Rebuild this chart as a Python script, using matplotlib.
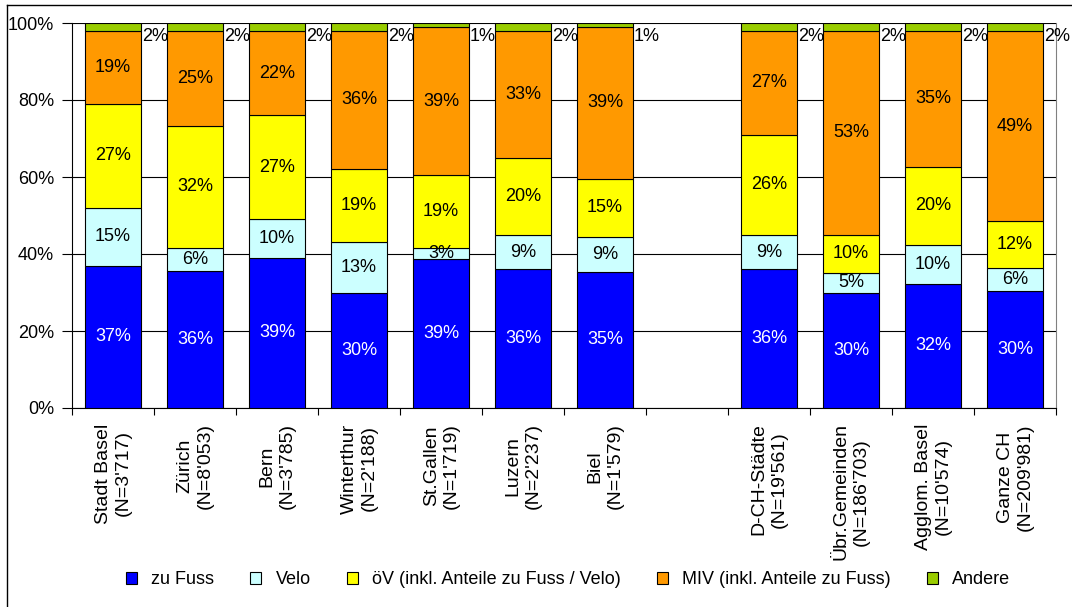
import matplotlib.pyplot as plt
from matplotlib.patches import Patch
from matplotlib.lines import Line2D
import numpy as np

plt.rcParams['font.family'] = ['Liberation Sans', 'DejaVu Sans']

# Data (percent, as printed on the bars)
categories = ["Stadt Basel\n(N=3'717)", "Zürich\n(N=8'053)", "Bern\n(N=3'785)",
              "Winterthur\n(N=2'188)", "St.Gallen\n(N=1'719)", "Luzern\n(N=2'237)",
              "Biel\n(N=1'579)", "D-CH-Städte\n(N=19'561)", "Übr.Gemeinden\n(N=186'703)",
              "Agglom. Basel\n(N=10'574)", "Ganze CH\n(N=209'981)"]
zu_fuss = [37, 36, 39, 30, 39, 36, 35, 36, 30, 32, 30]
velo = [15, 6, 10, 13, 3, 9, 9, 9, 5, 10, 6]
oev = [27, 32, 27, 19, 19, 20, 15, 26, 10, 20, 12]
miv = [19, 25, 22, 36, 39, 33, 39, 27, 53, 35, 49]
andere = [2, 2, 2, 2, 1, 2, 1, 2, 2, 2, 2]

series_names = ['zu Fuss', 'Velo', 'öV (inkl. Anteile zu Fuss / Velo)',
                'MIV (inkl. Anteile zu Fuss)', 'Andere']
colors = ['#0000FF', '#CCFFFF', '#FFFF00', '#FF9900', '#99CC00']
label_colors = ['white', 'black', 'black', 'black', 'black']

# one empty slot between Biel and D-CH-Städte
xpos = np.array(list(range(7)) + list(range(8, 12)))

data = np.array([zu_fuss, velo, oev, miv, andere], dtype=float)
shares = data / data.sum(axis=0) * 100  # 100% stacked

fig = plt.figure(figsize=(10.72, 6.07), dpi=100)
ax = fig.add_axes([72 / 1072, 1 - 408 / 607, (1056 - 72) / 1072, (408 - 23) / 607])

width = 0.68
bottom = np.zeros(len(xpos))
for k in range(5):
    ax.bar(xpos, shares[k], width, bottom=bottom, color=colors[k],
           edgecolor='black', linewidth=0.8, zorder=3)
    for i in range(len(xpos)):
        if k < 4:
            ax.text(xpos[i], bottom[i] + shares[k][i] / 2, '%d%%' % data[k][i],
                    ha='center', va='center', fontsize=13, color=label_colors[k], zorder=4)
        else:
            ax.text(xpos[i] + width / 2 + 0.01, 96.4, '%d%%' % data[k][i],
                    ha='left', va='center', fontsize=13, color='black', zorder=4)
    bottom += shares[k]

ax.set_xlim(-0.5, 11.5)
ax.set_ylim(0, 100)
ax.set_yticks([0, 20, 40, 60, 80, 100])
ax.set_yticklabels(['0%', '20%', '40%', '60%', '80%', '100%'], fontsize=13)
ax.yaxis.grid(True, color='black', linewidth=0.8, zorder=0)
ax.set_axisbelow(True)

ax.set_xticks(np.arange(-0.5, 12, 1))
ax.set_xticklabels([])
ax.set_xticks(xpos, minor=True)
ax.set_xticklabels(categories, minor=True, rotation=90, fontsize=14,
                   ha='center', va='top', multialignment='center')
ax.tick_params(axis='x', which='minor', length=0, pad=11)
ax.tick_params(axis='x', which='major', length=5, direction='out', width=0.8)
ax.tick_params(axis='y', length=7, direction='out', width=0.8, pad=6)

ax.spines['top'].set_visible(False)
ax.spines['right'].set_color('#808080')
ax.spines['left'].set_linewidth(0.8)
ax.spines['bottom'].set_linewidth(0.8)

handles = [Patch(facecolor=colors[k], edgecolor='black', linewidth=0.8) for k in range(5)]
fig.legend(handles, series_names, loc='center', bbox_to_anchor=(568 / 1072, 1 - 580 / 607),
           ncol=5, frameon=False, fontsize=13, handlelength=0.6, handleheight=0.6,
           handletextpad=0.8, columnspacing=2.0)

# outer chart frame
fig.add_artist(Line2D([7 / 1072, 7 / 1072], [0, 1 - 5 / 607], color='black', linewidth=1))
fig.add_artist(Line2D([7 / 1072, 1], [1 - 5 / 607, 1 - 5 / 607], color='black', linewidth=1))

plt.savefig('out.png', dpi=100)
